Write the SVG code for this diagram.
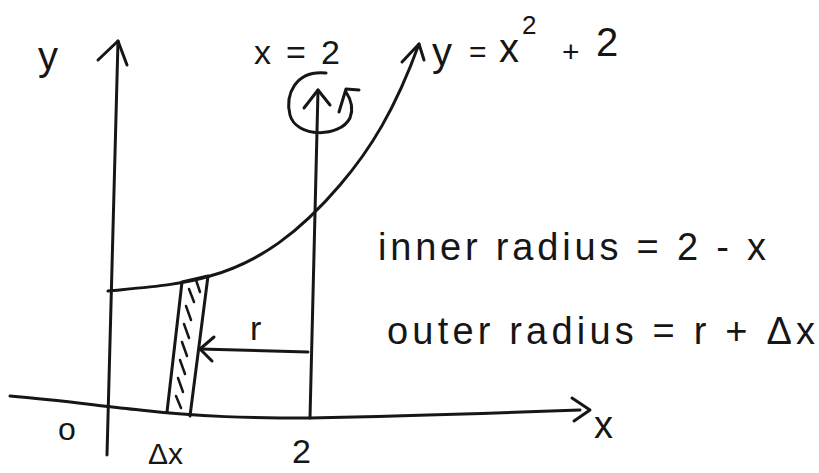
<svg xmlns="http://www.w3.org/2000/svg" width="819" height="473" viewBox="0 0 819 473">
<style>
.ln{fill:none;stroke:#161616;stroke-width:3;stroke-linecap:round;stroke-linejoin:round}
.hl{fill:none;stroke:#161616;stroke-width:2.5;stroke-linecap:round}
.t{font-family:"Liberation Sans","DejaVu Sans",sans-serif;fill:#161616}
</style>
<rect width="819" height="473" fill="#fff"/>
<g id="axes">
<g id="y-axis">
<path class="ln" d="M107,455 L118,41"/>
<path class="ln" d="M98,60 L118,41 L127,65"/>
<text class="t" x="38" y="70" font-size="40">y</text>
</g>
<g id="x-axis">
<path class="ln" d="M10,396 C60,400 100,406 140,410 C200,417 250,418 310,418 C420,416 500,413 580,410"/>
<path class="ln" d="M572,398 L590,410 L574,421"/>
<text class="t" x="594" y="438" font-size="38">x</text>
</g>
</g>
<g id="line-x2">
<path class="ln" d="M310,418 L318,90"/>
<path class="ln" d="M304,108 L318,90 L330,105"/>
<text class="t" x="254" y="64" font-size="34" textLength="86">x=2</text>
<path class="ln" d="M326,73 C295,70 285,95 290,115 C296,138 340,138 350,118 C354,108 350,98 346,92"/>
<path class="ln" d="M339,112 L346,89 L359,90"/>
</g>
<g id="curve">
<path class="ln" d="M108,291 C150,287 180,285 210,276 C260,262 300,232 340,185 C370,150 395,110 419,44"/>
<path class="ln" d="M402,62 L419,44 L424,60"/>
<text class="t" x="432" y="66" font-size="40">y</text>
<text class="t" x="469" y="62" font-size="30">=</text>
<text class="t" x="499" y="62" font-size="40">x</text>
<text class="t" x="522" y="34" font-size="26">2</text>
<text class="t" x="562" y="62" font-size="30">+</text>
<text class="t" x="596" y="56" font-size="40">2</text>
</g>
<g id="strip">
<path class="ln" d="M167,412 L182,282 L208,276 L190,416"/>
<path class="hl" d="M176,396 L181,408 M178,378 L183,392 M180,360 L185,374 M182,342 L187,356 M184,324 L189,338 M186,306 L191,320 M189,289 L194,302 M196,280 L200,292"/>
</g>
<g id="radius">
<path class="ln" d="M308,352 L200,349"/>
<path class="ln" d="M214,337 L200,349 L212,361"/>
<text class="t" x="250" y="340" font-size="34">r</text>
</g>
<g id="labels">
<text class="t" x="58" y="440" font-size="32">o</text>
<text class="t" x="148" y="464" font-size="30">Δx</text>
<text class="t" x="292" y="463" font-size="34">2</text>
<text class="t" x="378" y="260" font-size="38" textLength="388">inner radius = 2 - x</text>
<text class="t" x="387" y="344" font-size="38" textLength="428">outer radius = r + Δx</text>
</g>
</svg>
